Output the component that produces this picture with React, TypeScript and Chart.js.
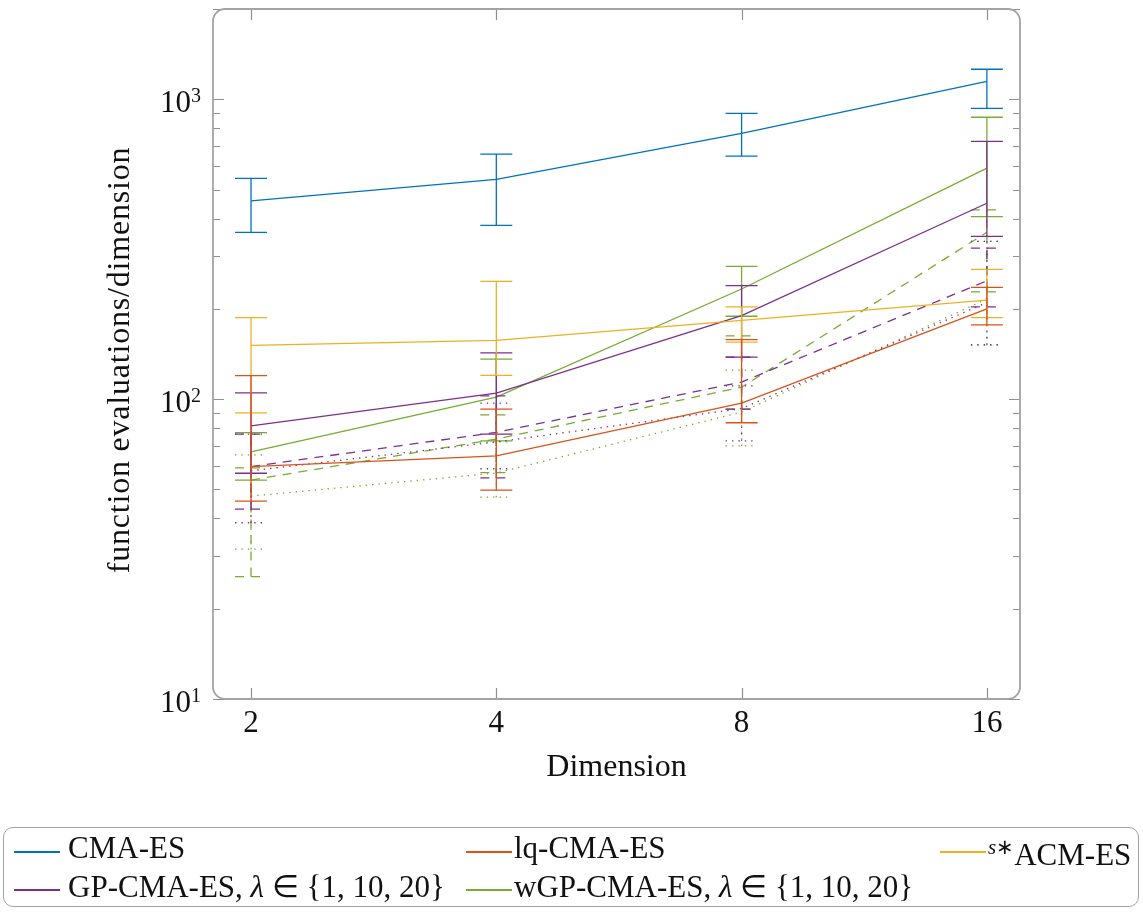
import React, { useEffect, useRef } from "react";
import { Chart, registerables } from "chart.js";

Chart.register(...registerables);

// ---------------- data ----------------
const dimensions = [2, 4, 8, 16];

const cmaMed = [458, 541, 770, 1148];
const cmaLo = [360, 380, 646, 933];
const cmaHi = [545, 656, 898, 1259];

const lqMed = [59.6, 64.7, 97, 200];
const lqLo = [45.7, 49.7, 83.4, 177];
const lqHi = [119.7, 92.6, 158, 236];

const acmMed = [151, 157, 183, 214];
const acmLo = [90, 120, 155, 187];
const acmHi = [187, 247, 203, 271];

const gp1Med = [81.5, 104.7, 190, 450];
const gp1Lo = [56.6, 76.4, 138, 349];
const gp1Hi = [105, 142.7, 239, 724];

const gp10Med = [59.6, 77.5, 114, 248];
const gp10Lo = [43, 54.6, 92.6, 203];
const gp10Hi = [76.4, 102.5, 138, 319];

const gp20Med = [57.7, 72, 93, 210];
const gp20Lo = [38.7, 58.6, 72.6, 152];
const gp20Hi = [76.4, 97, 110.7, 336];

const wgp1Med = [66.7, 101.6, 233, 589];
const wgp1Lo = [53.7, 72.6, 189, 406];
const wgp1Hi = [77.3, 136, 277, 871];

const wgp10Med = [53.7, 73.6, 109.6, 360];
const wgp10Lo = [25.6, 56.9, 92.6, 228];
const wgp10Hi = [59, 88.6, 162.5, 428];

const wgp20Med = [47.5, 56.7, 90.5, 216];
const wgp20Lo = [31.6, 47.1, 69.8, 151];
const wgp20Hi = [65.2, 72, 125, 336];

const yTickValues = [10, 100, 1000];
const xTickLabels = ["2", "4", "8", "16"];

// ---------------- style ----------------
const BLUE = "#0072BD";
const RED = "#D95319";
const YELLOW = "#EDB120";
const PURPLE = "#7E2F8E";
const GREEN = "#77AC30";
const DASHED = [9, 7];
const DOTTED = [1.4, 5];
const FONT_FAMILY = '"Liberation Serif", "Times New Roman", serif';

const seriesDefs = [
  { label: "CMA-ES", color: BLUE, dash: [], med: cmaMed, lo: cmaLo, hi: cmaHi },
  { label: "lq-CMA-ES", color: RED, dash: [], med: lqMed, lo: lqLo, hi: lqHi },
  { label: "s*ACM-ES", color: YELLOW, dash: [], med: acmMed, lo: acmLo, hi: acmHi },
  { label: "GP-CMA-ES λ=1", color: PURPLE, dash: [], med: gp1Med, lo: gp1Lo, hi: gp1Hi },
  { label: "GP-CMA-ES λ=10", color: PURPLE, dash: DASHED, med: gp10Med, lo: gp10Lo, hi: gp10Hi },
  { label: "GP-CMA-ES λ=20", color: PURPLE, dash: DOTTED, med: gp20Med, lo: gp20Lo, hi: gp20Hi },
  { label: "wGP-CMA-ES λ=1", color: GREEN, dash: [], med: wgp1Med, lo: wgp1Lo, hi: wgp1Hi },
  { label: "wGP-CMA-ES λ=10", color: GREEN, dash: DASHED, med: wgp10Med, lo: wgp10Lo, hi: wgp10Hi },
  { label: "wGP-CMA-ES λ=20", color: GREEN, dash: DOTTED, med: wgp20Med, lo: wgp20Lo, hi: wgp20Hi },
];

const errorBarPlugin = {
  id: "errorBars",
  afterDatasetDraw(chart: any, args: any) {
    const ds = chart.data.datasets[args.index];
    const xs = chart.scales.x;
    const ys = chart.scales.y;
    const ctx = chart.ctx;
    const ca = chart.chartArea;
    ctx.save();
    ctx.beginPath();
    ctx.rect(ca.left, ca.top, ca.right - ca.left, ca.bottom - ca.top);
    ctx.clip();
    ctx.strokeStyle = ds.borderColor;
    ctx.lineWidth = ds.borderWidth;
    ctx.setLineDash(ds.borderDash || []);
    ctx.lineCap = "butt";
    const half = 16;
    ds.data.forEach((p: any, i: number) => {
      const x = xs.getPixelForValue(p.x);
      const yl = ys.getPixelForValue(ds.errLo[i]);
      const yh = ys.getPixelForValue(ds.errHi[i]);
      ctx.beginPath();
      ctx.moveTo(x, yl);
      ctx.lineTo(x, yh);
      ctx.moveTo(x - half, yl);
      ctx.lineTo(x + half, yl);
      ctx.moveTo(x - half, yh);
      ctx.lineTo(x + half, yh);
      ctx.stroke();
    });
    ctx.restore();
  },
};

const axesPlugin = {
  id: "axesFrame",
  afterDraw(chart: any) {
    const ctx = chart.ctx;
    const ca = chart.chartArea;
    const xs = chart.scales.x;
    const ys = chart.scales.y;
    ctx.save();
    // ticks
    ctx.strokeStyle = "#8f8f8f";
    ctx.lineWidth = 1.2;
    ctx.setLineDash([]);
    const yMax = ys.max;
    for (let e = 1; e <= 3; e++) {
      for (let m = 1; m <= 9; m++) {
        const v = m * Math.pow(10, e);
        if (v > yMax + 1e-6) continue;
        const y = Math.round(ys.getPixelForValue(v)) + 0.5;
        const len = m === 1 ? 11 : 7;
        ctx.beginPath();
        ctx.moveTo(ca.left, y);
        ctx.lineTo(ca.left + len, y);
        ctx.moveTo(ca.right, y);
        ctx.lineTo(ca.right - len, y);
        ctx.stroke();
      }
    }
    dimensions.forEach((d) => {
      const x = Math.round(xs.getPixelForValue(Math.log2(d))) + 0.5;
      ctx.beginPath();
      ctx.moveTo(x, ca.bottom);
      ctx.lineTo(x, ca.bottom - 11);
      ctx.moveTo(x, ca.top);
      ctx.lineTo(x, ca.top + 11);
      ctx.stroke();
    });
    // frame
    ctx.strokeStyle = "#a3a3a3";
    ctx.lineWidth = 1.8;
    ctx.beginPath();
    (ctx as any).roundRect(ca.left, ca.top, ca.right - ca.left, ca.bottom - ca.top, 12);
    ctx.stroke();

    // tick labels
    ctx.fillStyle = "#111";
    yTickValues.forEach((v) => {
      const y = ys.getPixelForValue(v);
      const exp = String(Math.round(Math.log10(v)));
      ctx.font = `20px ${FONT_FAMILY}`;
      ctx.textAlign = "right";
      ctx.textBaseline = "alphabetic";
      const right = ca.left - 12;
      const supW = ctx.measureText(exp).width;
      ctx.fillText(exp, right, y + 3);
      ctx.font = `31px ${FONT_FAMILY}`;
      ctx.fillText("10", right - supW, y + 13);
    });
    ctx.font = `31px ${FONT_FAMILY}`;
    ctx.textAlign = "center";
    dimensions.forEach((d, i) => {
      const x = xs.getPixelForValue(Math.log2(d));
      ctx.fillText(xTickLabels[i], x, ca.bottom + 33);
    });
    // axis titles
    ctx.font = `32px ${FONT_FAMILY}`;
    ctx.fillText("Dimension", (ca.left + ca.right) / 2, ca.bottom + 77);
    ctx.save();
    ctx.translate(129, 360);
    ctx.rotate(-Math.PI / 2);
    (ctx as any).letterSpacing = "0.8px";
    ctx.fillText("function evaluations/dimension", 0, 0);
    ctx.restore();
    ctx.restore();
  },
};

const legendItems = [
  { key: "cma", color: BLUE, lineX: 14, textX: 68, row: 0 },
  { key: "lq", color: RED, lineX: 466, textX: 514, row: 0 },
  { key: "acm", color: YELLOW, lineX: 940, textX: 988, row: 0 },
  { key: "gp", color: PURPLE, lineX: 14, textX: 68, row: 1 },
  { key: "wgp", color: GREEN, lineX: 466, textX: 514, row: 1 },
];
const rowLineY = [852, 890];
const rowTextTop = [832, 871];

function legendText(key: string) {
  if (key === "cma") return <>CMA-ES</>;
  if (key === "lq") return <>lq-CMA-ES</>;
  if (key === "acm")
    return (
      <>
        <span style={{ fontSize: 21, verticalAlign: "0.5em" }}>
          <i>s</i>∗
        </span>
        ACM-ES
      </>
    );
  if (key === "gp")
    return (
      <>
        GP-CMA-ES, <i>λ</i> ∈ {"{"}1, 10, 20{"}"}
      </>
    );
  return (
    <>
      wGP-CMA-ES, <i>λ</i> ∈ {"{"}1, 10, 20{"}"}
    </>
  );
}

export default function App() {
  const canvasRef = useRef<HTMLCanvasElement>(null);

  useEffect(() => {
    const canvas = canvasRef.current;
    if (!canvas) return;
    const datasets = seriesDefs.map((s) => ({
      label: s.label,
      data: dimensions.map((d, i) => ({ x: Math.log2(d), y: s.med[i] })),
      errLo: s.lo,
      errHi: s.hi,
      borderColor: s.color,
      backgroundColor: s.color,
      borderWidth: 1.3,
      borderDash: s.dash,
      pointRadius: 0,
      pointHoverRadius: 0,
      tension: 0,
      fill: false,
    }));
    const chart = new Chart(canvas, {
      type: "line",
      data: { datasets } as any,
      options: {
        animation: false,
        responsive: false,
        devicePixelRatio: 1,
        layout: { padding: { left: 213, top: 9, right: 123, bottom: 214 } },
        plugins: { legend: { display: false }, tooltip: { enabled: false } },
        events: [],
        scales: {
          x: { type: "linear", display: false, min: 0.845, max: 4.135 },
          y: { type: "logarithmic", display: false, min: 10, max: 2000 },
        },
      } as any,
      plugins: [errorBarPlugin, axesPlugin] as any,
    });
    return () => chart.destroy();
  }, []);

  return (
    <div
      style={{
        position: "absolute",
        left: 0,
        top: 0,
        width: 1143,
        height: 913,
        background: "#fff",
        fontFamily: FONT_FAMILY,
        color: "#111",
      }}
    >
      <canvas
        ref={canvasRef}
        width={1143}
        height={913}
        style={{ position: "absolute", left: 0, top: 0, width: 1143, height: 913 }}
      />
      <div
        style={{
          position: "absolute",
          left: 3,
          top: 827,
          width: 1136,
          height: 80,
          border: "1.5px solid #a3a3a3",
          borderRadius: 10,
          boxSizing: "border-box",
        }}
      />
      {legendItems.map((it) => (
        <React.Fragment key={it.key}>
          <div
            style={{
              position: "absolute",
              left: it.lineX,
              top: rowLineY[it.row] - 1,
              width: 46,
              height: 1.6,
              backgroundColor: it.color,
            }}
          />
          <div
            style={{
              position: "absolute",
              left: it.textX,
              top: rowTextTop[it.row],
              fontSize: 31,
              lineHeight: "31px",
              whiteSpace: "nowrap",
            }}
          >
            {legendText(it.key)}
          </div>
        </React.Fragment>
      ))}
    </div>
  );
}
